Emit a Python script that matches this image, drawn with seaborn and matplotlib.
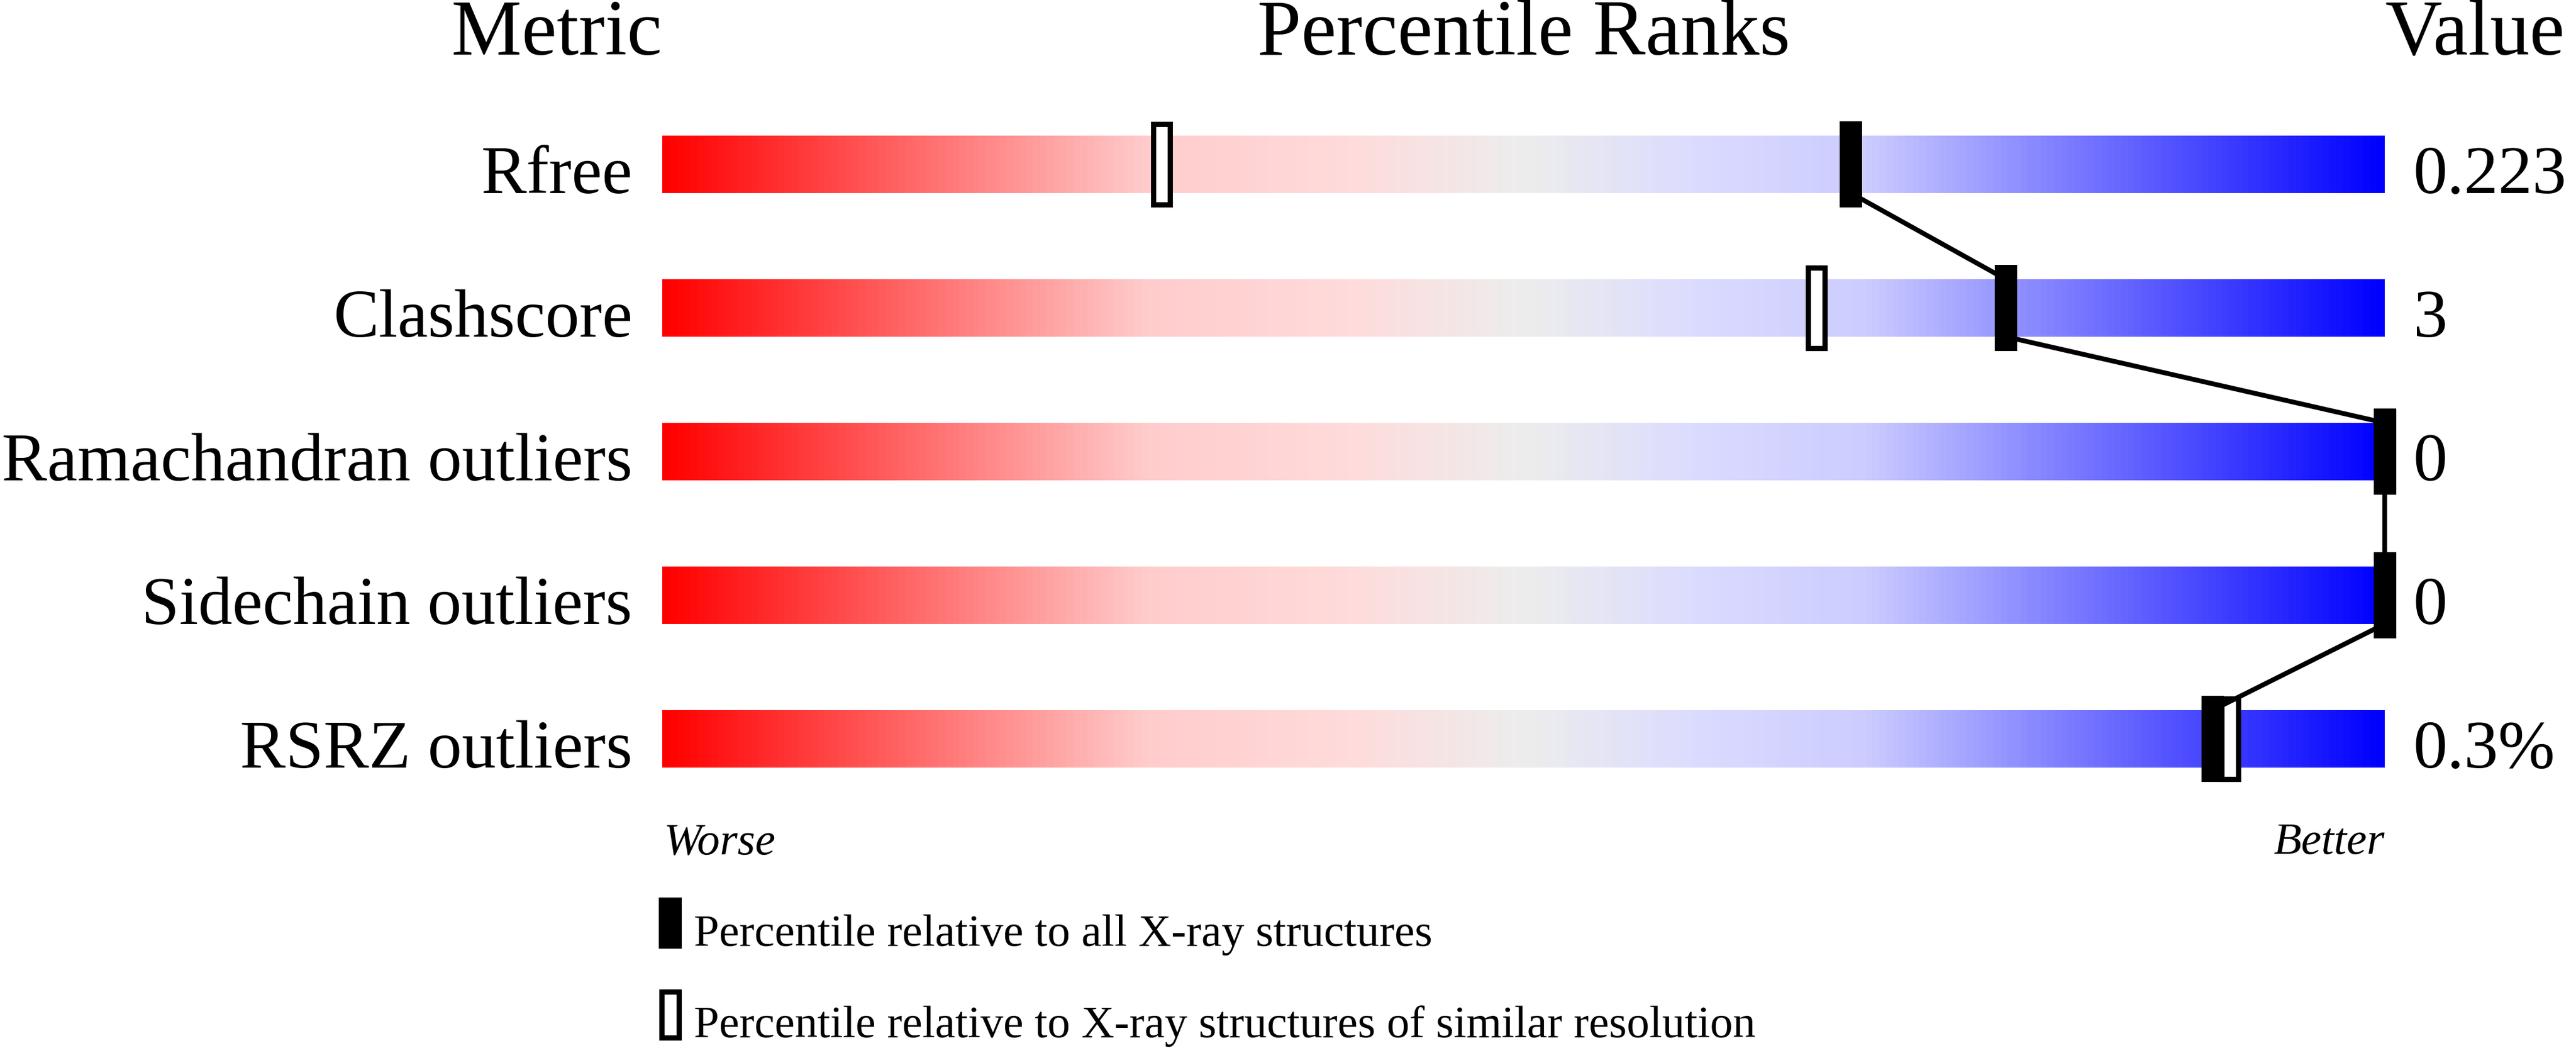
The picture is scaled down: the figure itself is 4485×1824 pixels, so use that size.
import numpy as np
import matplotlib
matplotlib.use("Agg")
import matplotlib.pyplot as plt
import seaborn as sns
from matplotlib.patches import Rectangle
from matplotlib.colors import LinearSegmentedColormap

# data
metrics = ["Rfree", "Clashscore", "Ramachandran outliers", "Sidechain outliers", "RSRZ outliers"]
values = ["0.223", "3", "0", "0", "0.3%"]
pct_all = [69, 78, 100, 100, 90]        # percentile vs all X-ray structures
pct_similar = [29, 67, 100, 100, 91]    # percentile vs similar resolution
legend_labels = ["Percentile relative to all X-ray structures",
                 "Percentile relative to X-ray structures of similar resolution"]

sns.set_style("white")
plt.rcParams['font.family'] = 'serif'
plt.rcParams['font.serif'] = ['Liberation Serif', 'DejaVu Serif']
plt.rcParams['text.color'] = 'black'

W, H, DPI = 4485, 1824, 300
fig = plt.figure(figsize=(W / DPI, H / DPI), dpi=DPI)
ax = fig.add_axes([0, 0, 1, 1])

# bars as seaborn horizontal bars, filled with a gradient
full = [100] * len(metrics)
sns.barplot(x=full, y=metrics, orient="h", width=0.4, color="white", ax=ax)

cmap = LinearSegmentedColormap.from_list("pdb", [
    (0.0, (1.0, 0.0, 0.0)),
    (0.28, (1.0, 0.80, 0.80)),
    (0.40, (1.0, 0.86, 0.86)),
    (0.50, (0.93, 0.93, 0.93)),
    (0.60, (0.86, 0.86, 1.0)),
    (0.70, (0.80, 0.80, 1.0)),
    (1.0, (0.0, 0.0, 1.0)),
])
grad = np.linspace(0, 1, 512).reshape(1, -1)
for i, bar in enumerate(list(ax.patches)):
    bar.set_edgecolor("none")
    im = ax.imshow(grad, cmap=cmap, aspect="auto", extent=(0, 100, i + 0.2, i - 0.2),
                   interpolation="bilinear", zorder=2)
    im.set_clip_path(bar)

# pixel mapping: 0 -> 1153 px, 100 -> 4152 px ; row i centre at 286 + 250 i px
px_per_unit = 29.99
ax.set_xlim(-1153 / px_per_unit, (W - 1153) / px_per_unit)
ax.set_ylim((H - 286) / 250, -286 / 250)
ax.axis("off")

mw = 39 / px_per_unit   # marker width
mh = 0.6                # marker height

# open markers (similar resolution)
for i, p in enumerate(pct_similar):
    ax.add_patch(Rectangle((p - (mw - 0.33) / 2, i - (mh - 0.04) / 2), mw - 0.33, mh - 0.04,
                           facecolor="white", edgecolor="black", linewidth=2.2, zorder=4))

# connecting line between filled markers
for i in range(len(pct_all) - 1):
    ax.plot([pct_all[i], pct_all[i + 1]], [i + 0.2, i + 0.8], color="black", lw=2.0,
            solid_capstyle="butt", zorder=5)

# filled markers (all structures)
for i, p in enumerate(pct_all):
    ax.add_patch(Rectangle((p - mw / 2, i - mh / 2), mw, mh, facecolor="black",
                           edgecolor="none", zorder=6))

# labels and values
for i, (m, v) in enumerate(zip(metrics, values)):
    ax.text(-52 / px_per_unit, i + 0.2, m, ha="right", va="baseline", fontsize=28.5)
    ax.text(100 + 50 / px_per_unit, i + 0.2, v, ha="left", va="baseline", fontsize=28.5)

# headers
ax.text(0, -0.764, "Metric", ha="right", va="baseline", fontsize=33)
ax.text(50, -0.764, "Percentile Ranks", ha="center", va="baseline", fontsize=33)
ax.text(100, -0.764, "Value", ha="left", va="baseline", fontsize=33)

# worse / better
ax.text(0.1, 4.8, "Worse", ha="left", va="baseline", fontsize=19, style="italic")
ax.text(100, 4.8, "Better", ha="right", va="baseline", fontsize=19, style="italic")

# legend
lw_leg = 40 / px_per_unit
ax.add_patch(Rectangle((0.47 - lw_leg / 2, 5.28 - 0.178), lw_leg, 0.356,
                       facecolor="black", edgecolor="none"))
ax.add_patch(Rectangle((0.47 - (lw_leg - 0.33) / 2, 5.92 - 0.16), lw_leg - 0.33, 0.32,
                       facecolor="white", edgecolor="black", linewidth=2.2))
ax.text(1.83, 5.44, legend_labels[0], ha="left", va="baseline", fontsize=19)
ax.text(1.83, 6.076, legend_labels[1], ha="left", va="baseline", fontsize=19)

fig.savefig("out.png", dpi=DPI, facecolor="white")
